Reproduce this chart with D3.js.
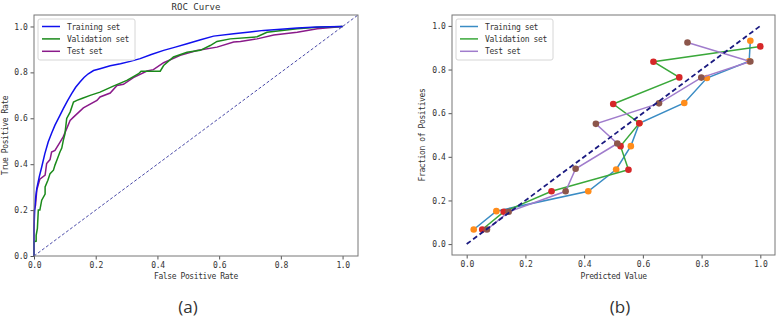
<!DOCTYPE html>
<html>
<head>
<meta charset="utf-8">
<script src="https://cdn.jsdelivr.net/npm/d3@7"></script>
<style>
  body { margin: 0; background: #fff; }
  svg text { font-family: "DejaVu Sans Mono", monospace; fill: #333; }
</style>
</head>
<body>
<svg id="chart" width="777" height="318"></svg>
<script>
// ROC curves (panel a)
const trainFpr = [0, 0, 0.002, 0.005, 0.009, 0.017, 0.025, 0.035, 0.046, 0.057, 0.068, 0.082, 0.095, 0.108, 0.122, 0.135, 0.149, 0.162, 0.176, 0.193, 0.214, 0.247, 0.28, 0.312, 0.344, 0.38, 0.42, 0.458, 0.496, 0.54, 0.582, 0.647, 0.70, 0.744, 0.8, 0.853, 0.918, 1];
const trainTpr = [0, 0.12, 0.193, 0.25, 0.294, 0.345, 0.388, 0.445, 0.497, 0.535, 0.570, 0.607, 0.642, 0.675, 0.707, 0.735, 0.758, 0.778, 0.794, 0.808, 0.816, 0.829, 0.838, 0.848, 0.86, 0.878, 0.896, 0.91, 0.925, 0.942, 0.958, 0.968, 0.976, 0.983, 0.988, 0.993, 0.998, 1];

const valFpr = [0, 0, 0.007, 0.007, 0.011, 0.014, 0.019, 0.025, 0.036, 0.036, 0.045, 0.052, 0.063, 0.068, 0.074, 0.084, 0.09, 0.095, 0.1, 0.106, 0.117, 0.128, 0.139, 0.155, 0.182, 0.214, 0.257, 0.301, 0.339, 0.347, 0.409, 0.42, 0.452, 0.496, 0.539, 0.571, 0.593, 0.636, 0.723, 0.755, 0.853, 0.918, 1];
const valTpr = [0, 0.062, 0.065, 0.09, 0.12, 0.2, 0.2, 0.243, 0.27, 0.301, 0.33, 0.359, 0.374, 0.396, 0.417, 0.453, 0.47, 0.504, 0.53, 0.599, 0.627, 0.671, 0.678, 0.686, 0.70, 0.714, 0.74, 0.765, 0.794, 0.805, 0.805, 0.83, 0.867, 0.888, 0.896, 0.917, 0.935, 0.946, 0.955, 0.975, 0.99, 0.997, 1];

const testFpr = [0, 0, 0.001, 0.005, 0.009, 0.019, 0.036, 0.041, 0.052, 0.057, 0.068, 0.084, 0.095, 0.106, 0.117, 0.128, 0.16, 0.204, 0.214, 0.247, 0.269, 0.29, 0.322, 0.366, 0.387, 0.42, 0.474, 0.528, 0.593, 0.647, 0.669, 0.723, 0.777, 0.853, 0.918, 1];
const testTpr = [0, 0.113, 0.2, 0.222, 0.287, 0.335, 0.352, 0.403, 0.42, 0.453, 0.46, 0.495, 0.52, 0.555, 0.591, 0.605, 0.645, 0.678, 0.693, 0.71, 0.743, 0.748, 0.777, 0.806, 0.812, 0.842, 0.874, 0.895, 0.91, 0.932, 0.935, 0.946, 0.963, 0.975, 0.99, 1];

// calibration curves (panel b)
const calTrainX = [0.024, 0.101, 0.414, 0.509, 0.559, 0.588, 0.741, 0.818, 0.962, 0.966];
const calTrainY = [0.067, 0.151, 0.242, 0.342, 0.449, 0.554, 0.647, 0.761, 0.838, 0.932];
const calValX = [0.053, 0.126, 0.289, 0.551, 0.524, 0.588, 0.499, 0.724, 0.636, 1.0];
const calValY = [0.067, 0.148, 0.242, 0.341, 0.449, 0.554, 0.642, 0.764, 0.836, 0.906];
const calTestX = [0.069, 0.143, 0.337, 0.371, 0.513, 0.440, 0.655, 0.799, 0.966, 0.752];
const calTestY = [0.067, 0.148, 0.242, 0.345, 0.461, 0.551, 0.645, 0.763, 0.837, 0.924];

const seriesNames = ["Training set", "Validation set", "Test set"];
const ticks = [0, 0.2, 0.4, 0.6, 0.8, 1.0];

const svg = d3.select("#chart");
const zip = (xs, ys) => xs.map((x, i) => [x, ys[i]]);

// draw a framed axes box with ticks
function drawAxes(x, y, xLabel, yLabel, yLabelX) {
    const g = svg.append("g");
    const [x0, x1] = x.range();
    const [y0, y1] = y.range();

    g.append("g")
        .attr("transform", "translate(0," + y0 + ")")
        .call(d3.axisBottom(x).tickValues(ticks).tickFormat(d3.format(".1f")).tickSize(3.5).tickPadding(3))
        .call(a => a.select(".domain").remove());
    g.append("g")
        .attr("transform", "translate(" + x0 + ",0)")
        .call(d3.axisLeft(y).tickValues(ticks).tickFormat(d3.format(".1f")).tickSize(3.5).tickPadding(3))
        .call(a => a.select(".domain").remove());
    g.selectAll(".tick line").attr("stroke", "#555");
    g.selectAll(".tick text")
        .style("font-family", "DejaVu Sans Mono, monospace")
        .style("font-size", "8px")
        .style("letter-spacing", "-0.4px")
        .attr("fill", "#333");

    g.append("rect")
        .attr("x", x0).attr("y", y1)
        .attr("width", x1 - x0).attr("height", y0 - y1)
        .attr("fill", "none").attr("stroke", "#777").attr("stroke-width", 1);

    g.append("text")
        .attr("x", (x0 + x1) / 2).attr("y", 279)
        .attr("text-anchor", "middle")
        .style("font-size", "8px").style("letter-spacing", "-0.4px")
        .text(xLabel);
    g.append("text")
        .attr("transform", "translate(" + yLabelX + "," + ((y0 + y1) / 2) + ") rotate(-90)")
        .attr("text-anchor", "middle")
        .style("font-size", "8px").style("letter-spacing", "-0.4px")
        .text(yLabel);
}

function drawLegend(lx, ly, colors) {
    const g = svg.append("g").attr("transform", "translate(" + lx + "," + ly + ")");
    g.append("rect")
        .attr("width", 97).attr("height", 41).attr("rx", 2)
        .attr("fill", "#fff").attr("fill-opacity", 0.85)
        .attr("stroke", "#d6d6d6");
    seriesNames.forEach((name, i) => {
        const yy = 7.5 + i * 12.4;
        g.append("line")
            .attr("x1", 4).attr("x2", 22).attr("y1", yy).attr("y2", yy)
            .attr("stroke", colors[i]).attr("stroke-width", 1.5);
        g.append("text")
            .attr("x", 29).attr("y", yy + 3)
            .style("font-size", "8px").style("letter-spacing", "-0.4px")
            .text(name);
    });
}

// ---- panel (a): ROC ----
const xA = d3.scaleLinear().domain([0, 1.05]).range([34, 358]);
const yA = d3.scaleLinear().domain([0, 1.05]).range([256, 15]);
const lineA = d3.line().x(d => xA(d[0])).y(d => yA(d[1]));

svg.append("path")
    .datum([[0, 0], [1.05, 1.05]])
    .attr("d", lineA)
    .attr("fill", "none").attr("stroke", "#4a4aa8").attr("stroke-width", 1)
    .attr("stroke-dasharray", "3,2");

const rocColors = ["#1010ee", "#1a8a1a", "#8a1a8a"];
[[trainFpr, trainTpr], [valFpr, valTpr], [testFpr, testTpr]].reverse().forEach((s, i) => {
    svg.append("path")
        .datum(zip(s[0], s[1]))
        .attr("d", lineA)
        .attr("fill", "none")
        .attr("stroke", rocColors[2 - i])
        .attr("stroke-width", 1.5);
});

drawAxes(xA, yA, "False Positive Rate", "True Positive Rate", 8);
drawLegend(38, 19, rocColors);
svg.append("text")
    .attr("x", 196).attr("y", 10)
    .attr("text-anchor", "middle")
    .style("font-size", "9px")
    .text("ROC Curve");

// ---- panel (b): calibration ----
const xB = d3.scaleLinear().domain([-0.05, 1.05]).range([452, 775]);
const yB = d3.scaleLinear().domain([-0.05, 1.05]).range([255, 15]);
const lineB = d3.line().x(d => xB(d[0])).y(d => yB(d[1]));

const calLineColors = ["#3a8cc4", "#3aa83a", "#a07ccc"];
const calDotColors = ["#ff8c1a", "#d62728", "#8c564b"];
const calSeries = [[calTrainX, calTrainY], [calValX, calValY], [calTestX, calTestY]];

calSeries.forEach((s, i) => {
    svg.append("path")
        .datum(zip(s[0], s[1]))
        .attr("d", lineB)
        .attr("fill", "none")
        .attr("stroke", calLineColors[i])
        .attr("stroke-width", 1.5);
    svg.append("g").selectAll("circle")
        .data(zip(s[0], s[1]))
        .enter().append("circle")
        .attr("cx", d => xB(d[0]))
        .attr("cy", d => yB(d[1]))
        .attr("r", 3.3)
        .attr("fill", calDotColors[i]);
});

svg.append("path")
    .datum([[0, 0], [1, 1]])
    .attr("d", lineB)
    .attr("fill", "none").attr("stroke", "#1a1a80").attr("stroke-width", 1.8)
    .attr("stroke-dasharray", "5,3");

drawAxes(xB, yB, "Predicted Value", "Fraction of Positives", 425);
drawLegend(456, 19, calLineColors);

// panel captions
svg.append("text")
    .attr("x", 188).attr("y", 313)
    .attr("text-anchor", "middle")
    .style("font-family", "Open Sans, sans-serif")
    .style("font-size", "17px")
    .text("(a)");
svg.append("text")
    .attr("x", 620).attr("y", 313)
    .attr("text-anchor", "middle")
    .style("font-family", "Open Sans, sans-serif")
    .style("font-size", "17px")
    .text("(b)");
</script>
</body>
</html>
